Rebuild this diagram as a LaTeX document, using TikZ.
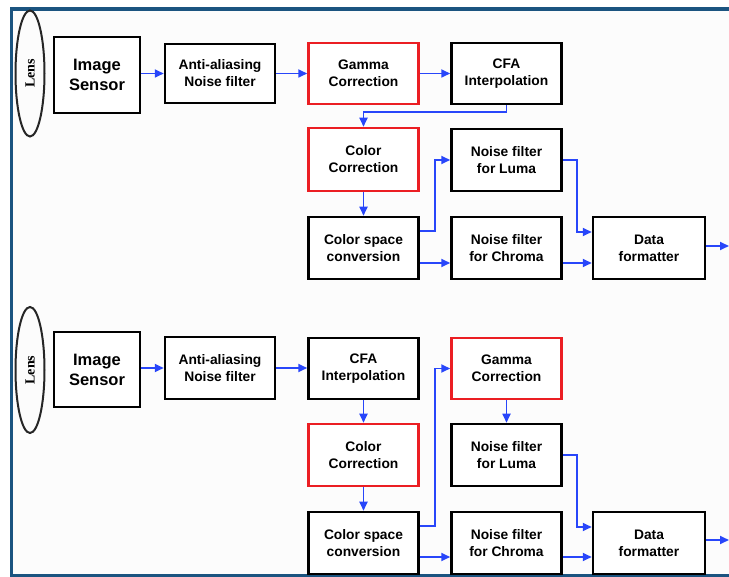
\documentclass[tikz,border=0pt]{standalone}
\usepackage{fontspec}
\setmainfont{Liberation Sans}
\newfontfamily\lensfont{Liberation Serif}
\usetikzlibrary{arrows.meta,shapes.geometric}
\definecolor{framecol}{RGB}{27,84,128}
\definecolor{arrowcol}{RGB}{40,70,250}
\definecolor{redcol}{RGB}{235,30,35}
\definecolor{bgcol}{RGB}{252,252,252}
\tikzset{
  blk/.style={draw=black, line width=2.5pt, fill=white, align=center, inner sep=0pt,
    font=\fontsize{13.8}{17}\selectfont\bfseries, minimum width=110pt, minimum height=61pt},
  redblk/.style={blk, draw=redcol},
  sensor/.style={blk, font=\fontsize{16.5}{20}\selectfont\bfseries, minimum width=86pt, minimum height=76pt},
  lensshape/.style={draw=black!85, line width=2pt, ellipse, inner sep=0pt, minimum width=29pt, minimum height=126pt},
  lenstext/.style={rotate=90, font=\lensfont\fontsize{14}{16}\selectfont\bfseries},
  flow/.style={draw=arrowcol, line width=1.7pt, -{Triangle[length=9pt,width=8pt]}}
}
\begin{document}
\begin{tikzpicture}[x=1pt,y=-1pt]
\useasboundingbox (0,0) rectangle (729,577);
\clip (0,0) rectangle (729,577);
\fill[white] (0,0) rectangle (729,577);
\fill[bgcol] (11.5,9) rectangle (729,576);
\draw[framecol, line width=3.5pt] (740,9) -- (11.5,9) -- (11.5,576) -- (740,576);

% ---------- top chain ----------
\node[lensshape] (lens1) at (30,73.5) {};
\node[lenstext] (lens1t) at (lens1) {Lens};
\node[sensor] (is1) at (97,75) {Image\\Sensor};
\node[blk, minimum height=59pt] (aa1) at (220,73.5) {Anti-aliasing\\Noise filter};
\node[redblk] (g1) at (363.5,73.5) {Gamma\\Correction};
\node[blk] (cfa1) at (506.5,73.5) {CFA\\Interpolation};
\node[redblk, minimum height=63pt] (cc1) at (363.5,159.5) {Color\\Correction};
\node[blk, minimum height=62pt] (l1) at (506.5,160) {Noise filter\\for Luma};
\node[blk, minimum height=62pt] (csc1) at (363.5,248) {Color space\\conversion};
\node[blk, minimum height=62pt] (ch1) at (506.5,248) {Noise filter\\for Chroma};
\node[blk, minimum width=112pt, minimum height=62pt] (df1) at (649,248) {Data\\formatter};
\coordinate (out1) at (729,246);

\draw[flow] (is1.east |- aa1.west) -- (aa1.west);
\draw[flow] (aa1.east) -- (g1.west);
\draw[flow] (g1.east) -- (cfa1.west);
\draw[flow] (cfa1.south) -- ++(0,7) -| (cc1.north);
\draw[flow] (cc1.south) -- (csc1.north);
\draw[flow] ([yshift=17pt]csc1.east) -- ++(15,0) |- (l1.west);
\draw[flow] ([yshift=-15pt]csc1.east) -- ([yshift=-15pt]ch1.west);
\draw[flow] (l1.east) -- ++(14,0) |- ([yshift=16pt]df1.west);
\draw[flow] ([yshift=-15pt]ch1.east) -- ([yshift=-15pt]df1.west);
\draw[flow] ([yshift=2pt]df1.east) -- (out1);

% ---------- bottom chain ----------
\node[lensshape] (lens2) at (30,370) {};
\node[lenstext] (lens2t) at (lens2) {Lens};
\node[sensor, minimum height=75pt] (is2) at (97,369.5) {Image\\Sensor};
\node[blk, minimum height=62pt] (aa2) at (220,368) {Anti-aliasing\\Noise filter};
\node[blk, minimum height=61pt] (cfa2) at (363.5,368.5) {CFA\\Interpolation};
\node[redblk, minimum height=61pt] (g2) at (506.5,368.5) {Gamma\\Correction};
\node[redblk, minimum height=62pt] (cc2) at (363.5,455) {Color\\Correction};
\node[blk, minimum height=62pt] (l2) at (506.5,455) {Noise filter\\for Luma};
\node[blk, minimum height=62pt] (csc2) at (363.5,543) {Color space\\conversion};
\node[blk, minimum height=62pt] (ch2) at (506.5,543) {Noise filter\\for Chroma};
\node[blk, minimum width=112pt, minimum height=62pt] (df2) at (649,543) {Data\\formatter};
\coordinate (out2) at (729,540);

\draw[flow] (is2.east |- aa2.west) -- (aa2.west);
\draw[flow] (aa2.east) -- (aa2.east -| cfa2.west);
\draw[flow] (cfa2.south) -- (cc2.north);
\draw[flow] (cc2.south) -- (csc2.north);
\draw[flow] ([yshift=17pt]csc2.east) -- ++(15,0) |- (g2.west);
\draw[flow] (g2.south) -- (l2.north);
\draw[flow] ([yshift=-14pt]csc2.east) -- ([yshift=-14pt]ch2.west);
\draw[flow] (l2.east) -- ++(14,0) |- ([yshift=16pt]df2.west);
\draw[flow] ([yshift=-14pt]ch2.east) -- ([yshift=-14pt]df2.west);
\draw[flow] ([yshift=3pt]df2.east) -- (out2);
\end{tikzpicture}
\end{document}
